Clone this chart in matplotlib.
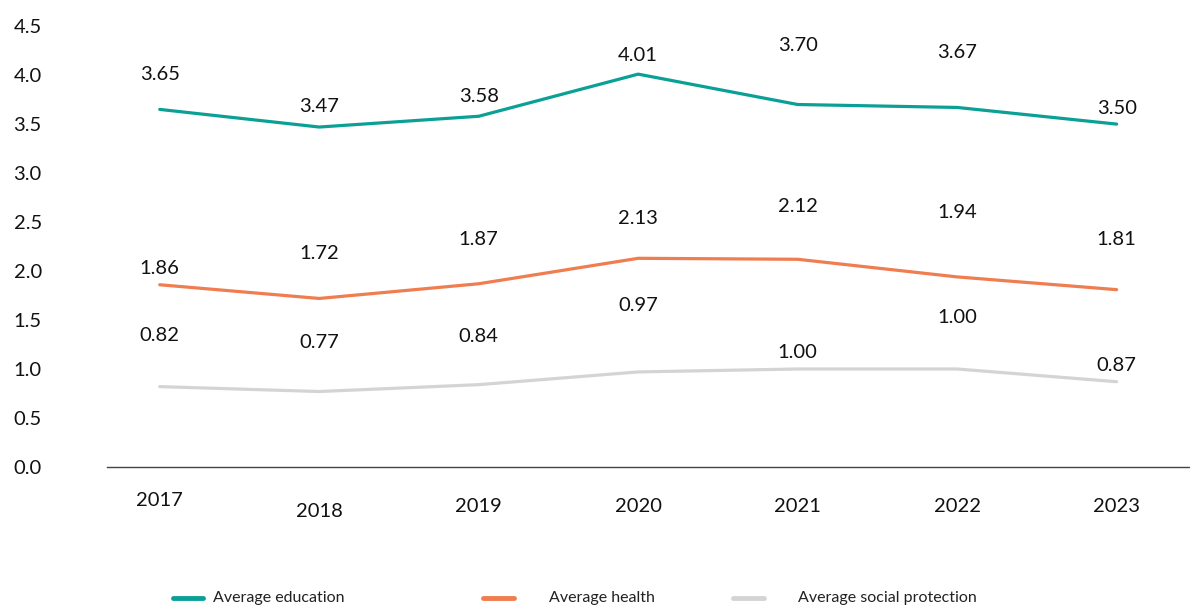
import matplotlib
matplotlib.use("Agg")
import matplotlib.pyplot as plt
from matplotlib.lines import Line2D

plt.rcParams['font.family'] = ['Lato', 'DejaVu Sans']

years = ["2017", "2018", "2019", "2020", "2021", "2022", "2023"]
education = [3.65, 3.47, 3.58, 4.01, 3.70, 3.67, 3.50]
health = [1.86, 1.72, 1.87, 2.13, 2.12, 1.94, 1.81]
social = [0.82, 0.77, 0.84, 0.97, 1.00, 1.00, 0.87]
series_names = ["Average education", "Average health", "Average social protection"]
yticks = [0.0, 0.5, 1.0, 1.5, 2.0, 2.5, 3.0, 3.5, 4.0, 4.5]

colors = ["#0ba096", "#f07d4f", "#d4d4d4"]
# label offsets above each point, in pixels (the original places them unevenly)
label_offsets = [
    [35, 21, 20, 19, 59, 55, 16],
    [16, 45, 44, 40, 53, 64, 50],
    [51, 49, 48, 66, 16, 51, 16],
]
year_offsets = [34, 45, 40, 40, 40, 40, 40]

fig = plt.figure(figsize=(11.9, 6.08), dpi=100)
ax = fig.add_axes([0.09, 0.232, 0.91, 0.725])

x = list(range(len(years)))
for vals, col, offs in zip([education, health, social], colors, label_offsets):
    ax.plot(x, vals, color=col, lw=2.3, solid_capstyle="round")
    for xi, v, o in zip(x, vals, offs):
        ax.annotate(f"{v:.2f}", (xi, v), xytext=(0, o * 0.72), textcoords="offset points",
                    ha="center", va="center", fontsize=14.5, color="#111111")

ax.set_xlim(-0.33, 6.46)
ax.set_ylim(0, 4.5)
ax.set_yticks(yticks)
ax.set_yticklabels([f"{t:.1f}" for t in yticks], fontsize=14.5, color="#111111")
ax.tick_params(axis="y", length=0, pad=47)
ax.set_xticks([])
for s in ["top", "right", "left"]:
    ax.spines[s].set_visible(False)
ax.spines["bottom"].set_color("#444444")
ax.spines["bottom"].set_linewidth(1.0)

for xi, yr, o in zip(x, years, year_offsets):
    ax.annotate(yr, (xi, 0), xytext=(0, -o * 0.72), textcoords="offset points",
                ha="center", va="center", fontsize=14.5, color="#111111")

# legend drawn by hand to match the uneven spacing of the original
leg_x = [0.145, 0.406, 0.616]
leg_y = 0.016
for lx, name, col in zip(leg_x, series_names, colors):
    fig.add_artist(Line2D([lx, lx + 0.026], [leg_y, leg_y], color=col, lw=3.5,
                          solid_capstyle="round", transform=fig.transFigure))
    fig.text(lx + 0.034 + (0.021 if lx > 0.2 else 0), leg_y, name, ha="left", va="center",
             fontsize=11.5, color="#222222")

fig.savefig("out.png", dpi=100)
